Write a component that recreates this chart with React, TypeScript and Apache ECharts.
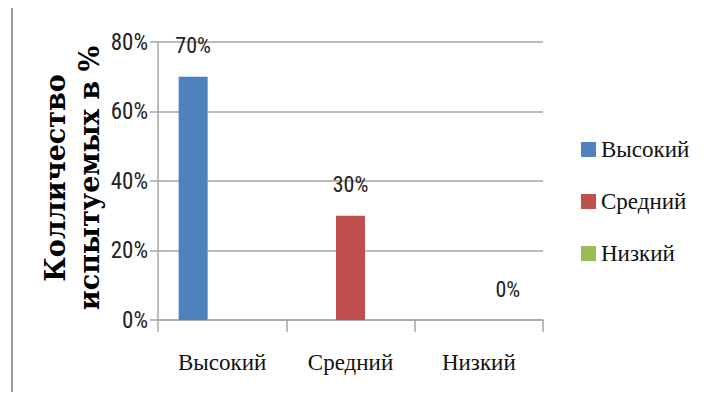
import React, { useEffect, useRef } from "react";
import * as echarts from "echarts";

const categories = ["Высокий", "Средний", "Низкий"];
const seriesNames = ["Высокий", "Средний", "Низкий"];
const seriesValues: (number | string)[][] = [
  [70, "-", "-"],
  ["-", 30, "-"],
  ["-", "-", 0],
];
const seriesColors = ["#4F81BD", "#C0504D", "#9BBB59"];
const yTicks = { min: 0, max: 80, interval: 20 };
const titleLines = ["Колличество", "испытуемых в %"];

const narrow = "Roboto Condensed";
const serif = "Liberation Serif";

export default function App() {
  const ref = useRef<HTMLDivElement>(null);
  useEffect(() => {
    if (!ref.current) return;
    const chart = echarts.init(ref.current, undefined, { renderer: "svg" });
    chart.setOption({
      animation: false,
      backgroundColor: "#ffffff",
      grid: { left: 158, right: 165, top: 42, bottom: 83 },
      legend: {
        orient: "vertical",
        left: 576,
        top: 133,
        itemWidth: 15,
        itemHeight: 15,
        itemGap: 29,
        icon: "rect",
        textStyle: { fontFamily: serif, fontSize: 23, color: "#111" },
        data: seriesNames,
      },
      graphic: [
        {
          type: "line",
          shape: { x1: 12, y1: 8, x2: 12, y2: 392 },
          style: { stroke: "#9a9a9a", lineWidth: 2 },
        },
        {
          type: "text",
          x: 72,
          y: 178,
          rotation: Math.PI / 2,
          style: {
            text: titleLines.join("\n"),
            fontFamily: "DejaVu Serif",
            fontWeight: "bold",
            fontSize: 27,
            fill: "#000",
            align: "center",
            verticalAlign: "middle",
            lineHeight: 34,
          },
        },
      ],
      xAxis: {
        type: "category",
        data: categories,
        axisLine: { lineStyle: { color: "#a6a6a6", width: 1.5 } },
        axisTick: { show: true, length: 12, lineStyle: { color: "#a6a6a6", width: 1.5 } },
        axisLabel: { fontFamily: serif, fontSize: 23, color: "#111", margin: 31, interval: 0, hideOverlap: false },
      },
      yAxis: {
        type: "value",
        min: yTicks.min,
        max: yTicks.max,
        interval: yTicks.interval,
        axisLine: { show: true, lineStyle: { color: "#a6a6a6", width: 1.5 } },
        axisTick: { show: true, length: 8, lineStyle: { color: "#a6a6a6", width: 1.5 } },
        splitLine: { lineStyle: { color: "#a6a6a6", width: 1.5 } },
        axisLabel: { formatter: "{value}%", fontFamily: narrow, fontSize: 23, color: "#222", margin: 10 },
      },
      series: seriesNames.map((name, i) => ({
        name,
        type: "bar",
        data: seriesValues[i],
        barWidth: 29,
        barGap: "0%",
        barCategoryGap: "32%",
        itemStyle: { color: seriesColors[i] },
        label: {
          show: true,
          position: "top",
          distance: 20,
          formatter: "{c}%",
          fontFamily: narrow,
          fontSize: 22,
          color: "#222",
        },
      })),
    });
    return () => chart.dispose();
  }, []);
  return <div ref={ref} style={{ position: "fixed", left: 0, top: 0, width: 708, height: 403 }} />;
}
